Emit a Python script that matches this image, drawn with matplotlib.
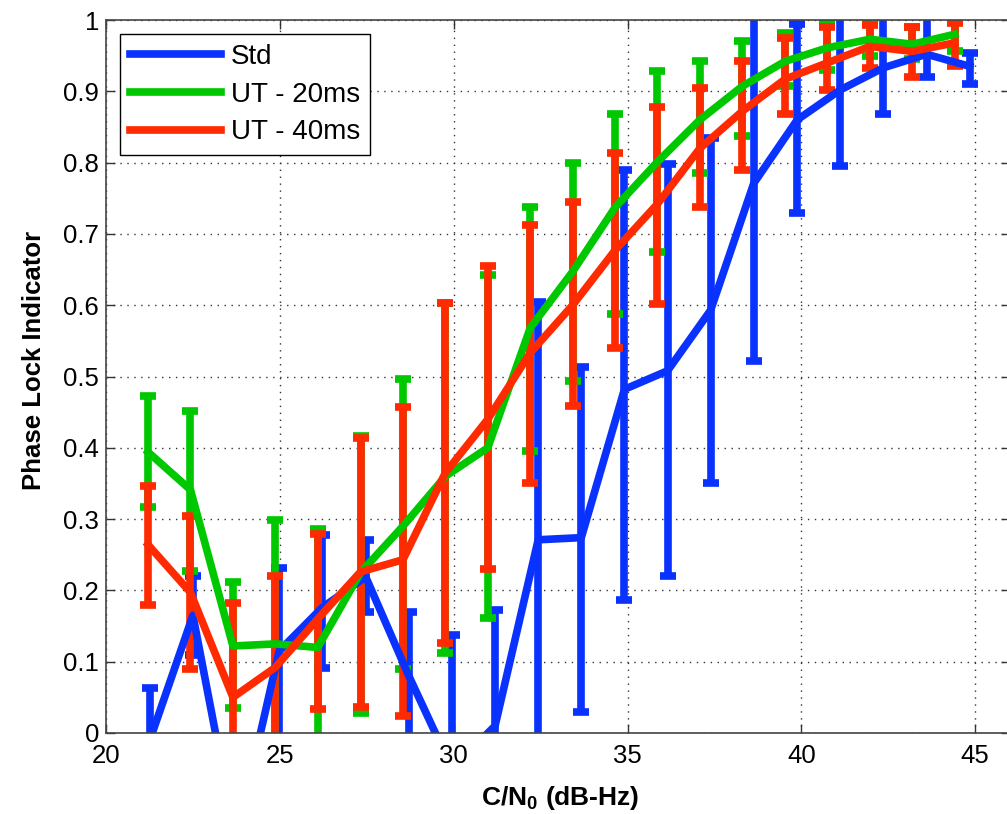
import matplotlib
matplotlib.use("Agg")
import matplotlib.pyplot as plt
from matplotlib.lines import Line2D
import numpy as np

plt.rcParams['font.family'] = ['Liberation Sans', 'DejaVu Sans']
plt.rcParams['mathtext.fontset'] = 'custom'
plt.rcParams['mathtext.rm'] = 'Liberation Sans'
plt.rcParams['mathtext.bf'] = 'Liberation Sans:bold'

# C/N0 values (dB-Hz) for each tracker
std_x = [21.26, 22.50, 23.74, 24.98, 26.22, 27.47, 28.71, 29.95, 31.19, 32.43,
         33.67, 34.91, 36.15, 37.39, 38.63, 39.88, 41.12, 42.36, 43.60, 44.84]
ut_x = [21.21, 22.43, 23.65, 24.87, 26.09, 27.32, 28.54, 29.76, 30.98, 32.20,
        33.42, 34.64, 35.86, 37.08, 38.30, 39.53, 40.75, 41.97, 43.19, 44.41]

# Std tracker: mean, upper, lower
std_mean = [-0.01, 0.165, -0.15, 0.115, 0.176, 0.219, 0.08, -0.05, 0.01, 0.271,
            0.274, 0.482, 0.508, 0.593, 0.771, 0.86, 0.902, 0.933, 0.952, 0.935]
std_up = [0.063, 0.22, -0.05, 0.232, 0.278, 0.27, 0.17, 0.138, 0.173, 0.605,
          0.513, 0.789, 0.798, 0.834, 1.02, 0.994, 1.01, 1.01, 1.01, 0.954]
std_lo = [-0.08, 0.11, -0.25, -0.01, 0.091, 0.17, -0.01, -0.2, -0.15, -0.06,
          0.029, 0.187, 0.22, 0.351, 0.522, 0.73, 0.795, 0.868, 0.92, 0.91]

# UT - 20ms
ut20_mean = [0.394, 0.341, 0.122, 0.125, 0.12, 0.225, 0.29, 0.36, 0.40, 0.568,
             0.647, 0.737, 0.801, 0.86, 0.907, 0.942, 0.961, 0.973, 0.966, 0.98]
ut20_up = [0.473, 0.452, 0.212, 0.299, 0.286, 0.416, 0.496, 0.603, 0.643, 0.738,
           0.799, 0.868, 0.928, 0.943, 0.97, 0.982, 0.997, 0.995, 0.99, 1.0]
ut20_lo = [0.317, 0.227, 0.035, -0.05, -0.05, 0.028, 0.09, 0.112, 0.161, 0.395,
           0.494, 0.588, 0.675, 0.786, 0.838, 0.907, 0.93, 0.95, 0.945, 0.957]

# UT - 40ms
ut40_mean = [0.264, 0.197, 0.05, 0.092, 0.16, 0.226, 0.243, 0.365, 0.44, 0.533,
             0.60, 0.677, 0.742, 0.82, 0.872, 0.917, 0.94, 0.963, 0.956, 0.968]
ut40_up = [0.346, 0.304, 0.182, 0.22, 0.279, 0.414, 0.457, 0.603, 0.655, 0.712,
           0.745, 0.813, 0.878, 0.904, 0.943, 0.975, 0.99, 0.993, 0.99, 0.996]
ut40_lo = [0.18, 0.09, -0.08, -0.04, 0.033, 0.037, 0.024, 0.126, 0.23, 0.351,
           0.459, 0.54, 0.601, 0.738, 0.79, 0.868, 0.902, 0.933, 0.92, 0.935]

series = [
    ('Std', std_x, std_mean, std_up, std_lo, '#0a32ff'),
    ('UT - 20ms', ut_x, ut20_mean, ut20_up, ut20_lo, '#00c800'),
    ('UT - 40ms', ut_x, ut40_mean, ut40_up, ut40_lo, '#ff2a00'),
]

fig = plt.figure(figsize=(10.07, 8.14), dpi=100)
ax = fig.add_axes([106 / 1007, 81 / 814, 904 / 1007, 713 / 814])

handles = []
for name, x, m, u, l, c in series:
    m = np.array(m)
    err = [m - np.array(l), np.array(u) - m]
    ax.errorbar(x, m, yerr=err, color=c, lw=5.5, elinewidth=5.5,
                capsize=5.5, capthick=5.5)
    handles.append(Line2D([], [], color=c, lw=5.5, label=name))

ax.set_xlim(20, 46)
ax.set_ylim(0, 1)
ax.set_xticks([20, 25, 30, 35, 40, 45])
ax.set_yticks(np.arange(0, 1.01, 0.1))
ax.set_yticklabels(['0', '0.1', '0.2', '0.3', '0.4', '0.5', '0.6', '0.7',
                    '0.8', '0.9', '1'])
ax.tick_params(direction='in', length=6.5, width=1, labelsize=18.5,
               top=True, right=True, color='#333333')
ax.tick_params(axis='x', pad=8)
ax.tick_params(axis='y', pad=5)
ax.grid(True, color='#333333', linestyle=(0, (1, 4)), linewidth=1)
for s in ax.spines.values():
    s.set_color('#444444')
    s.set_linewidth(1.2)

ax.set_xlabel(r'C/N$_{\mathbf{0}}$ (dB-Hz)', fontsize=19, fontweight='bold')
ax.set_ylabel('Phase Lock Indicator', fontsize=18.5, fontweight='bold')
ax.xaxis.set_label_coords(0.503, -0.071)
ax.yaxis.set_label_coords(-0.066, 0.522)

leg = ax.legend(handles=handles, loc='upper left',
                bbox_to_anchor=(0.0155, 0.980), borderaxespad=0,
                fancybox=False, edgecolor='black', fontsize=20,
                handlelength=3.3, labelspacing=0.42, borderpad=0.35,
                handletextpad=0.35, framealpha=1)
leg.get_frame().set_linewidth(1.0)

fig.savefig('out.png', dpi=100)
